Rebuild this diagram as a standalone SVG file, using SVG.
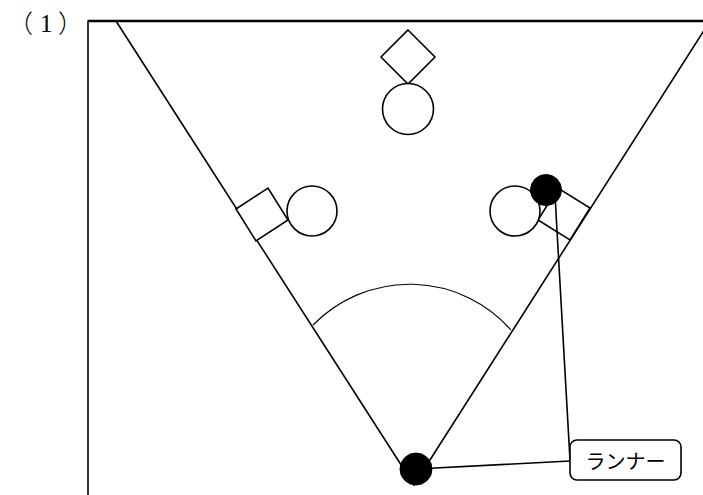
<svg xmlns="http://www.w3.org/2000/svg" width="703" height="495" viewBox="0 0 703 495">
<style>
.ln{stroke:#000;stroke-width:1.6;fill:none;stroke-linecap:round}
.pl{stroke:#000;stroke-width:1.6;fill:#fff}
.base{stroke:#000;stroke-width:1.6;fill:#fff;stroke-linejoin:miter}
.run{fill:#000;stroke:#000;stroke-width:1}
.lbl{font-family:"Noto Sans CJK JP","Noto Sans",sans-serif;font-size:20px;fill:#000}
.par{font-family:"Noto Sans CJK JP",sans-serif;font-size:25px;font-weight:300;fill:#000}
.num{font-family:"Liberation Serif",serif;font-size:25px;fill:#000}
</style>
<rect width="703" height="495" fill="#fff"/>
<g id="title">
<text x="8" y="33" class="par">（</text>
<text x="40" y="32" class="num">1</text>
<text x="58" y="33" class="par">）</text>
</g>
<g id="frame">
<line x1="88" y1="21" x2="88" y2="495" class="ln"/>
<line x1="88" y1="21" x2="703" y2="21" stroke="#000" stroke-width="2.6"/>
</g>
<g id="field">
<line x1="116" y1="21" x2="414" y2="485" class="ln"/>
<line x1="710" y1="21" x2="414" y2="485" class="ln"/>
<path d="M313 325 A135 135 0 0 1 511 330" stroke="#000" stroke-width="1.1" fill="none"/>
</g>
<g id="base-second"><polygon points="408,30 435,57 408,84 381,57" class="base"/></g>
<g id="base-third"><polygon points="236,209 268,188 288,220 256,241" class="base"/></g>
<g id="base-first"><polygon points="590,208 570,240 538,220 558,188" class="base"/></g>
<g id="player-second"><circle cx="408" cy="109" r="25.5" class="pl"/></g>
<g id="player-third"><circle cx="312" cy="211" r="25" class="pl"/></g>
<g id="player-first"><circle cx="515" cy="211" r="25" class="pl"/></g>
<g id="connectors">
<line x1="555" y1="195" x2="570" y2="460" class="ln"/>
<line x1="416" y1="469" x2="570" y2="461" class="ln"/>
</g>
<g id="runner-first"><circle cx="546" cy="190" r="15.5" class="run"/></g>
<g id="runner-home"><circle cx="416" cy="469" r="16" class="run"/></g>
<g id="label-runner">
<rect x="570" y="440" width="111" height="40" rx="7" ry="7" stroke="#000" stroke-width="1.6" fill="#fff"/>
<text x="625.5" y="469" text-anchor="middle" class="lbl">ランナー</text>
</g>
</svg>
